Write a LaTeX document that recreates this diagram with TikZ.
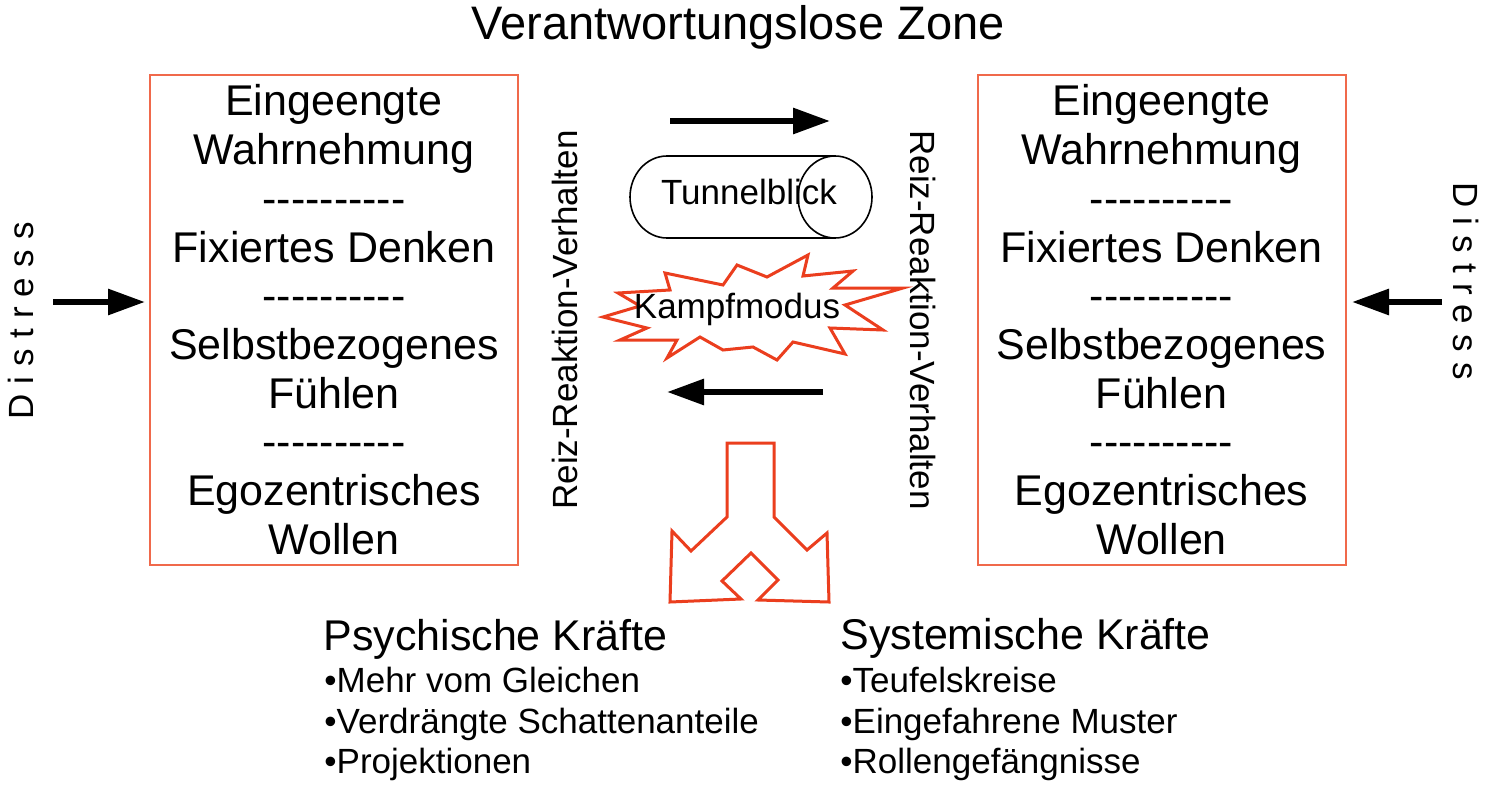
\documentclass[tikz,border=0pt]{standalone}
\usepackage{fontspec}
\setmainfont{Liberation Sans}
\usetikzlibrary{arrows.meta}
\definecolor{boxred}{RGB}{240,105,75}
\definecolor{shapered}{RGB}{235,62,30}
\tikzset{
  boxline/.style={draw=boxred, line width=1pt, inner sep=0pt, minimum width=184pt, minimum height=245pt},
  boxtxt/.style={inner sep=0pt, anchor=base, font=\fontsize{21.5}{24}\selectfont},
  bigarrow/.style={line width=3pt, -{Triangle[length=18.5pt, width=12.5pt]}},
  sidetxt/.style={inner sep=0pt, anchor=base, font=\fontsize{17.5}{20}\selectfont\addfontfeature{LetterSpace=29}},
  reiztxt/.style={inner sep=0pt, anchor=base, font=\fontsize{17.5}{20}\selectfont},
  headtxt/.style={inner sep=0pt, anchor=base west, font=\fontsize{21.5}{24}\selectfont},
  bultxt/.style={inner sep=0pt, anchor=base west, font=\fontsize{17.5}{20}\selectfont},
  redshape/.style={draw=shapered, line width=1.5pt, line join=miter},
}
\begin{document}
\begin{tikzpicture}[x=0.5pt,y=-0.5pt]
\useasboundingbox (0,0) rectangle (1486,791);
\fill[white] (0,0) rectangle (1486,791);

% title
\node[inner sep=0pt, anchor=base, font=\fontsize{23.5}{26}\selectfont] (title) at (738,40) {Verantwortungslose Zone};

% boxes
\node[boxline] (lbox) at (334,320) {};
\node[boxline] (rbox) at (1161.5,320) {};

\foreach \t [count=\i from 0] in {Eingeengte,Wahrnehmung,{-{}-{}-{}-{}-{}-{}-{}-{}-{}-},Fixiertes Denken,{-{}-{}-{}-{}-{}-{}-{}-{}-{}-},Selbstbezogenes,Fühlen,{-{}-{}-{}-{}-{}-{}-{}-{}-{}-},Egozentrisches,Wollen}{
  \node[boxtxt] (l\i) at (334,116+48.67*\i) {\t};
  \node[boxtxt] (r\i) at (1161.5,116+48.67*\i) {\t};
}

% Distress
\node[sidetxt, rotate=90] (dl) at (33,321) {Distress};
\node[sidetxt, rotate=-90] (dr) at (1453,281) {Distress};
\coordinate (la1) at (53,302);
\coordinate (la2) at (145,302);
\draw[bigarrow] (la1) -- (la2);
\coordinate (ra1) at (1442,302);
\coordinate (ra2) at (1352,302);
\draw[bigarrow] (ra1) -- (ra2);

% Reiz-Reaktion-Verhalten
\node[reiztxt, rotate=90] (reizl) at (577,320) {Reiz-Reaktion-Verhalten};
\node[reiztxt, rotate=-90] (reizr) at (910,320) {Reiz-Reaktion-Verhalten};

% middle arrows
\coordinate (ta1) at (670,121);
\coordinate (ta2) at (830,121);
\draw[bigarrow] (ta1) -- (ta2);
\coordinate (ba1) at (823,392);
\coordinate (ba2) at (667,392);
\draw[bigarrow] (ba1) -- (ba2);

% cylinder
\draw[line width=0.8pt] (835,156) -- (667,156) arc[start angle=270, end angle=90, x radius=37, y radius=41] -- (835,238);
\draw[line width=0.8pt] (835,197) ellipse [x radius=37, y radius=41];
\node[inner sep=0pt, anchor=base, font=\fontsize{17.5}{20}\selectfont] (tunnel) at (749,205) {Tunnelblick};

% starburst
\draw[redshape, fill=white] (603,317) -- (640,306) -- (618,293) -- (670,290) -- (665,273) -- (723,285) -- (737,265) -- (767,277) -- (808,255) -- (803,276) -- (853,271) -- (833,288) -- (903,288) -- (845,305) -- (883,330) -- (830,328) -- (845,354) -- (793,342) -- (777,360) -- (753,347) -- (723,350) -- (700,337) -- (667,358) -- (677,340) -- (620,340) -- (647,328) -- cycle;
\node[inner sep=0pt, anchor=base, font=\fontsize{17.5}{20}\selectfont] (kampf) at (737,318) {Kampfmodus};

% fork arrow
\draw[redshape] (727,443) -- (774,443) -- (774,517) -- (807,550) -- (827,533) -- (829,602) -- (758,600) -- (778,580) -- (751,553) -- (722,581) -- (741,599) -- (670,602) -- (672,531) -- (691,551) -- (727,517) -- cycle;

% bottom texts
\node[headtxt] (psy) at (323,650) {Psychische Kräfte};
\node[bultxt] (psy1) at (324,692) {•Mehr vom Gleichen};
\node[bultxt] (psy2) at (324,733) {•Verdrängte Schattenanteile};
\node[bultxt] (psy3) at (324,773) {•Projektionen};
\node[headtxt] (sys) at (840,649) {Systemische Kräfte};
\node[bultxt] (sys1) at (840,692) {•Teufelskreise};
\node[bultxt] (sys2) at (840,733) {•Eingefahrene Muster};
\node[bultxt] (sys3) at (840,773) {•Rollengefängnisse};
\end{tikzpicture}
\end{document}
